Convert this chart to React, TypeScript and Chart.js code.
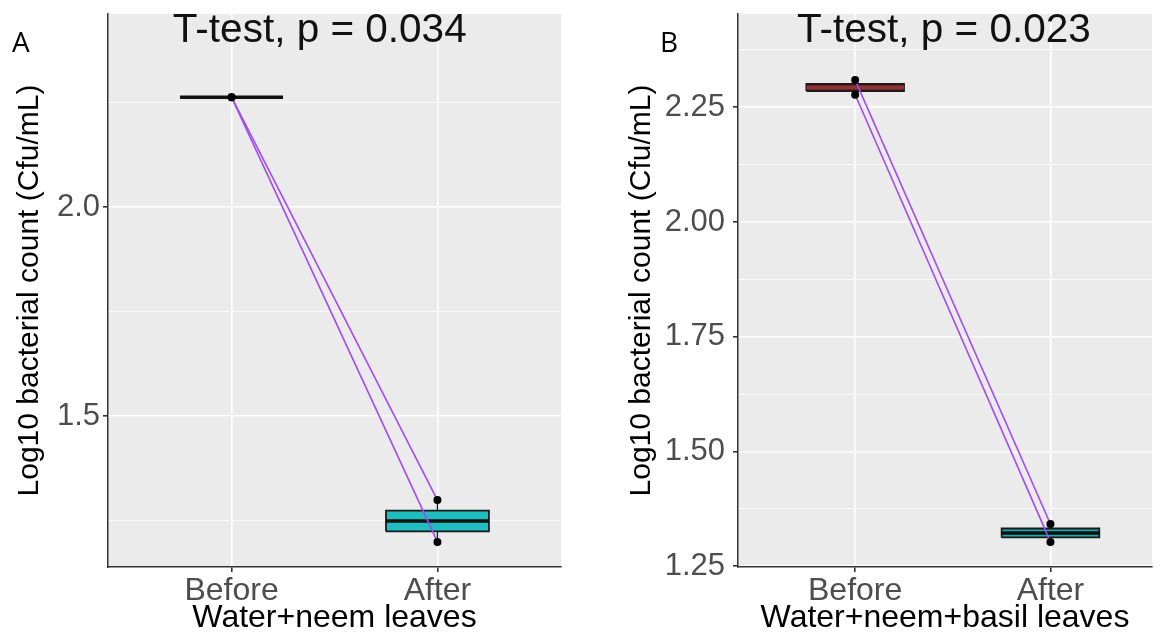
import React, { useEffect, useRef } from "react";
import { Chart, registerables } from "chart.js";

Chart.register(...registerables);

// ---------------- data ----------------
const categories = ["Before", "After"];
const panelLetters = ["A", "B"];
const xAxisTitles = ["Water+neem leaves", "Water+neem+basil leaves"];
const yAxisTitle = "Log10 bacterial count (Cfu/mL)";
const testLabels = ["T-test, p = 0.034", "T-test, p = 0.023"];

// paired samples (same index = same pair)
const beforeA = [2.263, 2.263];
const afterA = [1.299, 1.199];
const beforeB = [2.309, 2.277];
const afterB = [1.342, 1.303];

const majorTicksA = [1.5, 2.0];
const tickLabelsA = ["1.5", "2.0"];
const minorTicksA = [1.25, 1.75, 2.25];
const majorTicksB = [1.25, 1.5, 1.75, 2.0, 2.25];
const tickLabelsB = ["1.25", "1.50", "1.75", "2.00", "2.25"];
const minorTicksB = [1.375, 1.625, 1.875, 2.125, 2.375];

// ---------------- helpers ----------------
const FONT = "'Liberation Sans', Arial, Helvetica, sans-serif";
Chart.defaults.font.family = FONT;

function quantile(sorted: number[], p: number) {
  const h = (sorted.length - 1) * p;
  const lo = Math.floor(h);
  const hi = Math.ceil(h);
  return sorted[lo] + (h - lo) * (sorted[hi] - sorted[lo]);
}

const near = (a: number, b: number) => Math.abs(a - b) < 1e-6;

function boxDatasets(values: number[], xc: number, fill: string, medColor: string) {
  const s = [...values].sort((a, b) => a - b);
  const q1 = quantile(s, 0.25);
  const med = quantile(s, 0.5);
  const q3 = quantile(s, 0.75);
  const lo = s[0];
  const hi = s[s.length - 1];
  const hw = 0.25;
  const common = { type: "scatter" as const, showLine: true, pointRadius: 0, pointHoverRadius: 0, tension: 0 };
  return [
    { ...common, data: [{ x: xc, y: lo }, { x: xc, y: q1 }], borderColor: "#1a1a1a", borderWidth: 1.3, order: 6 },
    { ...common, data: [{ x: xc, y: q3 }, { x: xc, y: hi }], borderColor: "#1a1a1a", borderWidth: 1.3, order: 6 },
    {
      ...common,
      data: [
        { x: xc - hw, y: q1 },
        { x: xc + hw, y: q1 },
        { x: xc + hw, y: q3 },
        { x: xc - hw, y: q3 },
        { x: xc - hw, y: q1 },
      ],
      fill: "shape",
      backgroundColor: fill,
      borderColor: "#1a1a1a",
      borderWidth: 1.8,
      order: 5,
    },
    { ...common, data: [{ x: xc - hw, y: med }, { x: xc + hw, y: med }], borderColor: medColor, borderWidth: 3.4, order: 4 },
  ];
}

type PanelCfg = {
  idx: number;
  left: number;
  width: number;
  yAxisWidth: number;
  padRight: number;
  yTitlePad: number;
  yTickPad: number;
  letterX: number;
  xRange: [number, number];
  yRange: [number, number];
  before: number[];
  after: number[];
  major: number[];
  majorLabels: string[];
  minor: number[];
  labelAt: [number, number];
  fills: [string, string];
  medColors: [string, string];
};

const panels: PanelCfg[] = [
  {
    idx: 0,
    left: 0,
    width: 580,
    yAxisWidth: 108,
    padRight: 19,
    yTitlePad: 12,
    yTickPad: 3,
    letterX: 12,
    xRange: [0.4, 2.6],
    yRange: [1.139, 2.462],
    before: beforeA,
    after: afterA,
    major: majorTicksA,
    majorLabels: tickLabelsA,
    minor: minorTicksA,
    labelAt: [0.715, 2.395],
    fills: ["#6e2a2a", "#1FBDBF"],
    medColors: ["#111111", "#111111"],
  },
  {
    idx: 1,
    left: 580,
    width: 583,
    yAxisWidth: 158,
    padRight: 11,
    yTitlePad: 44,
    yTickPad: 8,
    letterX: 80,
    xRange: [0.4, 2.52],
    yRange: [1.2484, 2.453],
    before: beforeB,
    after: afterB,
    major: majorTicksB,
    majorLabels: tickLabelsB,
    minor: minorTicksB,
    labelAt: [0.702, 2.392],
    fills: ["#5e2222", "#1FA9AA"],
    medColors: ["#8f3434", "#111111"],
  },
];

function Panel({ cfg }: { cfg: PanelCfg }) {
  const ref = useRef<HTMLCanvasElement | null>(null);

  useEffect(() => {
    if (!ref.current) return;
    const isMajor = (v: number) => cfg.major.some((m) => near(m, v));

    const pairLines = cfg.before.map((b, i) => ({
      type: "scatter" as const,
      showLine: true,
      pointRadius: 0,
      pointHoverRadius: 0,
      data: [
        { x: 1, y: b },
        { x: 2, y: cfg.after[i] },
      ],
      borderColor: "#A24BF0",
      borderWidth: 1.6,
      order: 1,
    }));

    const points = {
      type: "scatter" as const,
      data: [
        ...cfg.before.map((v) => ({ x: 1, y: v })),
        ...cfg.after.map((v) => ({ x: 2, y: v })),
      ],
      pointRadius: 4,
      pointHoverRadius: 4,
      backgroundColor: "#000000",
      borderWidth: 0,
      order: 0,
    };

    const datasets: any[] = [
      ...boxDatasets(cfg.before, 1, cfg.fills[0], cfg.medColors[0]),
      ...boxDatasets(cfg.after, 2, cfg.fills[1], cfg.medColors[1]),
      ...pairLines,
      points,
    ];

    const bgPlugin = {
      id: "panelBg",
      beforeDraw(chart: any) {
        const { ctx, chartArea, width, height } = chart;
        ctx.save();
        ctx.fillStyle = "#FFFFFF";
        ctx.fillRect(0, 0, width, height);
        ctx.fillStyle = "#EBEBEB";
        ctx.fillRect(chartArea.left, chartArea.top, chartArea.right - chartArea.left, chartArea.bottom - chartArea.top);
        ctx.restore();
      },
    };

    const textPlugin = {
      id: "panelText",
      afterDraw(chart: any) {
        const { ctx, scales } = chart;
        ctx.save();
        ctx.fillStyle = "#111111";
        ctx.font = `40.5px ${FONT}`;
        ctx.textAlign = "left";
        ctx.textBaseline = "alphabetic";
        ctx.fillText(
          testLabels[cfg.idx],
          scales.x.getPixelForValue(cfg.labelAt[0]),
          scales.y.getPixelForValue(cfg.labelAt[1])
        );
        ctx.fillStyle = "#000000";
        ctx.font = `28px 'Open Sans', 'Noto Sans', sans-serif`;
        ctx.fillText(panelLetters[cfg.idx], cfg.letterX, 52);
        ctx.restore();
      },
    };

    const chart = new Chart(ref.current, {
      type: "scatter",
      data: { datasets },
      options: {
        responsive: false,
        animation: false,
        events: [],
        layout: { padding: { left: 0, right: cfg.padRight, top: 14, bottom: 0 } },
        plugins: { legend: { display: false }, tooltip: { enabled: false } },
        scales: {
          x: {
            type: "linear",
            min: cfg.xRange[0],
            max: cfg.xRange[1],
            afterFit: (s: any) => {
              s.height = 68;
              s.paddingLeft = 0;
              s.paddingRight = 0;
            },
            afterBuildTicks: (s: any) => {
              s.ticks = categories.map((_, i) => ({ value: i + 1 }));
            },
            ticks: {
              callback: (v: any) => categories[Math.round(Number(v)) - 1] ?? "",
              font: { size: 32, family: FONT, lineHeight: 1.0 },
              color: "#4D4D4D",
              padding: 3,
              autoSkip: false,
              maxRotation: 0,
              minRotation: 0,
            },
            grid: { color: "#FFFFFF", lineWidth: 1.6, tickLength: 5, tickColor: "#333333", drawTicks: true },
            border: { display: true, color: "#333333", width: 1.5 },
            title: {
              display: true,
              text: xAxisTitles[cfg.idx],
              font: { size: 32, family: FONT, lineHeight: 1.05 },
              color: "#000000",
              padding: { top: 0, bottom: 0 },
            },
          },
          y: {
            type: "linear",
            min: cfg.yRange[0],
            max: cfg.yRange[1],
            afterFit: (s: any) => {
              s.width = cfg.yAxisWidth;
              s.paddingTop = 0;
              s.paddingBottom = 0;
            },
            afterBuildTicks: (s: any) => {
              s.ticks = [...cfg.major, ...cfg.minor].sort((a, b) => a - b).map((v) => ({ value: v }));
            },
            ticks: {
              callback: (v: any) => {
                const i = cfg.major.findIndex((m) => near(m, Number(v)));
                return i >= 0 ? cfg.majorLabels[i] : "";
              },
              font: { size: 31, family: FONT },
              color: "#4D4D4D",
              padding: cfg.yTickPad,
              autoSkip: false,
            },
            grid: {
              color: "#FFFFFF",
              lineWidth: (c: any) => (c.tick && isMajor(c.tick.value) ? 1.6 : 0.8),
              tickLength: 5,
              tickColor: (c: any) => (c.tick && isMajor(c.tick.value) ? "#333333" : "rgba(0,0,0,0)"),
              drawTicks: true,
            },
            border: { display: true, color: "#333333", width: 1.5 },
            title: {
              display: true,
              text: yAxisTitle,
              font: { size: 30, family: FONT },
              color: "#000000",
              padding: { top: cfg.yTitlePad, bottom: 0 },
            },
          },
        },
      },
      plugins: [bgPlugin, textPlugin],
    } as any);

    return () => chart.destroy();
  }, [cfg]);

  return (
    <canvas
      ref={ref}
      width={cfg.width}
      height={635}
      style={{ position: "absolute", left: cfg.left, top: 0, width: cfg.width, height: 635 }}
    />
  );
}

export default function App() {
  return (
    <div style={{ position: "absolute", left: 0, top: 0, width: 1163, height: 635, background: "#FFFFFF", overflow: "hidden" }}>
      {panels.map((p) => (
        <Panel key={p.idx} cfg={p} />
      ))}
    </div>
  );
}
